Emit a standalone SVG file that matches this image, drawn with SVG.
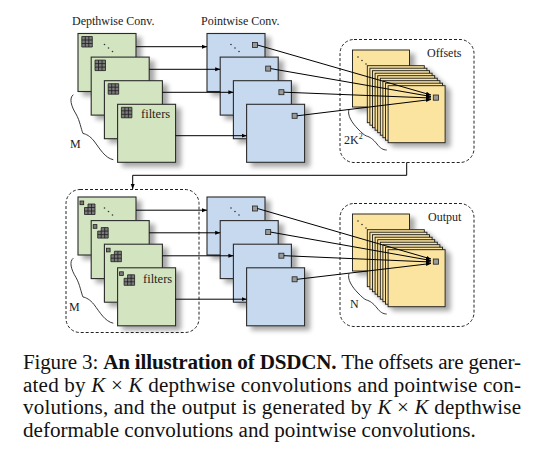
<svg xmlns="http://www.w3.org/2000/svg" width="546" height="468" viewBox="0 0 546 468">
<defs>
<style>
.g{fill:#d3e5c0;stroke:#2b2b2b;stroke-width:1.1}
.b{fill:#c6d9ee;stroke:#2b2b2b;stroke-width:1.1}
.y{fill:#fbe3a0;stroke:#1a1a1a;stroke-width:0.9}
.dash{fill:none;stroke:#222;stroke-width:1;stroke-dasharray:3 2}
.ln{fill:none;stroke:#000;stroke-width:1}
.sq{fill:#9a9a9a;stroke:#222;stroke-width:0.8}
.lbl{font-family:"Liberation Serif","Times New Roman",serif;font-size:12px;fill:#222}
.cap{font-family:"Liberation Serif","Times New Roman",serif;font-size:21.1px;fill:#111}
.dot{fill:#333}
.br{fill:none;stroke:#222;stroke-width:0.9}
</style>
<marker id="ah" markerUnits="userSpaceOnUse" markerWidth="6" markerHeight="5" refX="5" refY="2.5" orient="auto"><path d="M0,0.5 L5,2.5 L0,4.5z" fill="#000"/></marker>
<filter id="sh" x="-20%" y="-20%" width="150%" height="150%">
<feGaussianBlur in="SourceAlpha" stdDeviation="2.5"/>
<feOffset dx="5" dy="4"/>
<feComponentTransfer><feFuncA type="linear" slope="0.35"/></feComponentTransfer>
<feMerge><feMergeNode/><feMergeNode in="SourceGraphic"/></feMerge>
</filter>
<g id="grid"><rect width="10.5" height="10.5" fill="#7a7a7a"/><path d="M0,0H10.5V10.5H0zM3.5,0V10.5M7,0V10.5M0,3.5H10.5M0,7H10.5" fill="none" stroke="#1e1e1e" stroke-width="0.8"/></g>
<g id="dgrid"><path d="M3.5,0H10.5V10.5H0V3.5H3.5z" fill="#7a7a7a"/><path d="M3.5,0H10.5V10.5H0V3.5H3.5zM7,0V10.5M3.5,3.5V10.5M0,7H10.5M3.5,3.5H10.5" fill="none" stroke="#1e1e1e" stroke-width="0.8"/><rect x="-4.5" y="-3" width="3.7" height="3.7" fill="#7a7a7a" stroke="#1e1e1e" stroke-width="0.8"/></g>
<g id="dots3"><circle cx="0" cy="0" r="0.8"/><circle cx="4" cy="3.5" r="0.8"/><circle cx="8" cy="7" r="0.8"/></g>
</defs>
<rect width="546" height="468" fill="#fff"/>

<!-- labels -->
<g id="title-depthwise"><text class="lbl" x="72" y="24.5">Depthwise Conv.</text></g>
<g id="title-pointwise"><text class="lbl" x="201" y="24.5">Pointwise Conv.</text></g>

<!-- dashed containers -->
<g id="offsets-box"><rect class="dash" x="340" y="39.5" width="134" height="123" rx="14"/><text class="lbl" x="427" y="57">Offsets</text></g>
<g id="output-box"><rect class="dash" x="340" y="203.5" width="134" height="123" rx="14"/><text class="lbl" x="428" y="221.3">Output</text></g>
<g id="deform-box"><rect class="dash" x="66" y="189.5" width="133" height="143" rx="14"/></g>

<!-- top depthwise -->
<g id="depthwise-top">
<g filter="url(#sh)">
<rect class="g" x="78" y="33.5" width="58" height="58"/>
<use href="#grid" x="81.8" y="36.5"/>
<use href="#dots3" x="104.5" y="44.5" class="dot"/>
<rect class="g" x="91.2" y="57.1" width="58" height="58"/>
<use href="#grid" x="95" y="60.1"/>
<rect class="g" x="104.4" y="80.7" width="58" height="58"/>
<use href="#grid" x="108.2" y="83.7"/>
<rect class="g" x="117.6" y="104.3" width="58" height="58"/>
<use href="#grid" x="121.4" y="107.3"/>
</g>
<text class="lbl" x="141" y="117.8" style="font-size:12.5px">filters</text>
<path class="br" d="M73.3,94.7 C69,98 71,106 76,114 C80,121 81,129 83,133.5 C86,134 90,136 94,141 C100,149 105,158 113.3,159.7"/>
<text class="lbl" x="70" y="147.5">M</text>
</g>

<!-- top pointwise -->
<g id="pointwise-top">
<g filter="url(#sh)">
<rect class="b" x="207" y="33.5" width="58" height="58"/>
<use href="#dots3" x="231" y="44.5" class="dot"/>
<rect class="sq" x="252.5" y="42.5" width="5" height="5"/>
<rect class="b" x="220.2" y="57.1" width="58" height="58"/>
<rect class="sq" x="265.7" y="66.1" width="5" height="5"/>
<rect class="b" x="233.4" y="80.7" width="58" height="58"/>
<rect class="sq" x="278.9" y="89.7" width="5" height="5"/>
<rect class="b" x="246.6" y="104.3" width="58" height="58"/>
<rect class="sq" x="292.1" y="113.3" width="5" height="5"/>
</g>
</g>

<!-- offsets stack -->
<g id="offsets-stack">
<g filter="url(#sh)">
<rect class="y" x="352.5" y="50" width="57" height="57"/>
<use href="#dots3" x="358" y="57" class="dot"/>
<rect class="y" x="367.3" y="65.7" width="57" height="57"/>
<rect class="y" x="369.9" y="68.2" width="57" height="57"/>
<rect class="y" x="372.5" y="70.7" width="57" height="57"/>
<rect class="y" x="375.1" y="73.2" width="57" height="57"/>
<rect class="y" x="377.7" y="75.7" width="57" height="57"/>
<rect class="y" x="380.3" y="78.2" width="57" height="57"/>
<rect class="y" x="382.9" y="80.7" width="57" height="57"/>
<rect class="y" x="385.5" y="83.2" width="57" height="57"/>
<rect class="y" x="388.1" y="85.7" width="57" height="57"/>
<rect class="sq" x="433.3" y="95" width="5.2" height="5.2"/>
</g>
<path class="br" d="M349,109.5 C347,115 352,123 358,129 C362,133 364,135 366.5,136 C370,137 373,139 377,144 C380,148 383,150 386.7,150"/>
<text class="lbl" x="344" y="144">2K<tspan dy="-5" style="font-size:8px">2</tspan></text>
</g>

<!-- bottom deformable depthwise -->
<g id="deform-depthwise" transform="translate(0,163.5)">
<g filter="url(#sh)">
<rect class="g" x="78" y="33.5" width="58" height="58"/>
<use href="#dgrid" x="84.5" y="40.5"/>
<use href="#dots3" x="104.5" y="44.5" class="dot"/>
<rect class="g" x="91.2" y="57.1" width="58" height="58"/>
<use href="#dgrid" x="97.7" y="64.1"/>
<rect class="g" x="104.4" y="80.7" width="58" height="58"/>
<use href="#dgrid" x="110.9" y="87.7"/>
<rect class="g" x="117.6" y="104.3" width="58" height="58"/>
<use href="#dgrid" x="124.1" y="111.3"/>
</g>
<text class="lbl" x="143" y="119.3" style="font-size:12.5px">filters</text>
<path class="br" d="M73.3,94.7 C69,98 71,106 76,114 C80,121 81,129 83,133.5 C86,134 90,136 94,141 C100,149 105,158 113.3,159.7"/>
<text class="lbl" x="69" y="147.5">M</text>
</g>

<!-- bottom pointwise -->
<g id="pointwise-bottom" transform="translate(0,163.5)">
<g filter="url(#sh)">
<rect class="b" x="207" y="33.5" width="58" height="58"/>
<use href="#dots3" x="231" y="44.5" class="dot"/>
<rect class="sq" x="252.5" y="42.5" width="5" height="5"/>
<rect class="b" x="220.2" y="57.1" width="58" height="58"/>
<rect class="sq" x="265.7" y="66.1" width="5" height="5"/>
<rect class="b" x="233.4" y="80.7" width="58" height="58"/>
<rect class="sq" x="278.9" y="89.7" width="5" height="5"/>
<rect class="b" x="246.6" y="104.3" width="58" height="58"/>
<rect class="sq" x="292.1" y="113.3" width="5" height="5"/>
</g>
</g>

<!-- output stack -->
<g id="output-stack" transform="translate(0,164)">
<g filter="url(#sh)">
<rect class="y" x="352.5" y="50" width="57" height="57"/>
<use href="#dots3" x="358" y="57" class="dot"/>
<rect class="y" x="367.3" y="65.7" width="57" height="57"/>
<rect class="y" x="369.9" y="68.2" width="57" height="57"/>
<rect class="y" x="372.5" y="70.7" width="57" height="57"/>
<rect class="y" x="375.1" y="73.2" width="57" height="57"/>
<rect class="y" x="377.7" y="75.7" width="57" height="57"/>
<rect class="y" x="380.3" y="78.2" width="57" height="57"/>
<rect class="y" x="382.9" y="80.7" width="57" height="57"/>
<rect class="y" x="385.5" y="83.2" width="57" height="57"/>
<rect class="y" x="388.1" y="85.7" width="57" height="57"/>
<rect class="sq" x="433.3" y="95" width="5.2" height="5.2"/>
</g>
<path class="br" d="M349,109.5 C347,115 352,123 358,129 C362,133 364,135 366.5,136 C370,137 373,139 377,144 C380,148 383,150 386.7,150"/>
<text class="lbl" x="350" y="144">N</text>
</g>

<!-- connectors -->
<g id="connectors" class="ln">
<path class="ln" marker-end="url(#ah)" d="M136,46.7 H207"/>
<path class="ln" marker-end="url(#ah)" d="M149.2,69.3 H220.2"/>
<path class="ln" marker-end="url(#ah)" d="M162.4,92.3 H233.4"/>
<path class="ln" marker-end="url(#ah)" d="M175.6,135.7 H246.6"/>
<path class="ln" marker-end="url(#ah)" d="M257.5,45 L431,95"/>
<path class="ln" marker-end="url(#ah)" d="M270.7,68.6 L431,96.5"/>
<path class="ln" marker-end="url(#ah)" d="M283.9,92.2 L431,98"/>
<path class="ln" marker-end="url(#ah)" d="M297.1,115.8 L431,99.5"/>
<path class="ln" marker-end="url(#ah)" d="M406.7,162.5 V175.3 H132.7 V189"/>
<path class="ln" marker-end="url(#ah)" d="M136,210.2 H207"/>
<path class="ln" marker-end="url(#ah)" d="M149.2,232.8 H220.2"/>
<path class="ln" marker-end="url(#ah)" d="M162.4,255.8 H233.4"/>
<path class="ln" marker-end="url(#ah)" d="M175.6,299.2 H246.6"/>
<path class="ln" marker-end="url(#ah)" d="M257.5,208.5 L431,259"/>
<path class="ln" marker-end="url(#ah)" d="M270.7,232.1 L431,260.5"/>
<path class="ln" marker-end="url(#ah)" d="M283.9,255.7 L431,262"/>
<path class="ln" marker-end="url(#ah)" d="M297.1,279.3 L431,263.5"/>
</g>

<!-- caption -->
<g id="caption">
<text class="cap" x="23" y="369" textLength="498" lengthAdjust="spacing">Figure 3: <tspan font-weight="bold">An illustration of DSDCN.</tspan> The offsets are gener-</text>
<text class="cap" x="23" y="391.5" textLength="498" lengthAdjust="spacing">ated by <tspan font-style="italic">K</tspan> × <tspan font-style="italic">K</tspan> depthwise convolutions and pointwise con-</text>
<text class="cap" x="23" y="414" textLength="498" lengthAdjust="spacing">volutions, and the output is generated by <tspan font-style="italic">K</tspan> × <tspan font-style="italic">K</tspan> depthwise</text>
<text class="cap" x="23" y="436.5">deformable convolutions and pointwise convolutions.</text>
</g>
</svg>
